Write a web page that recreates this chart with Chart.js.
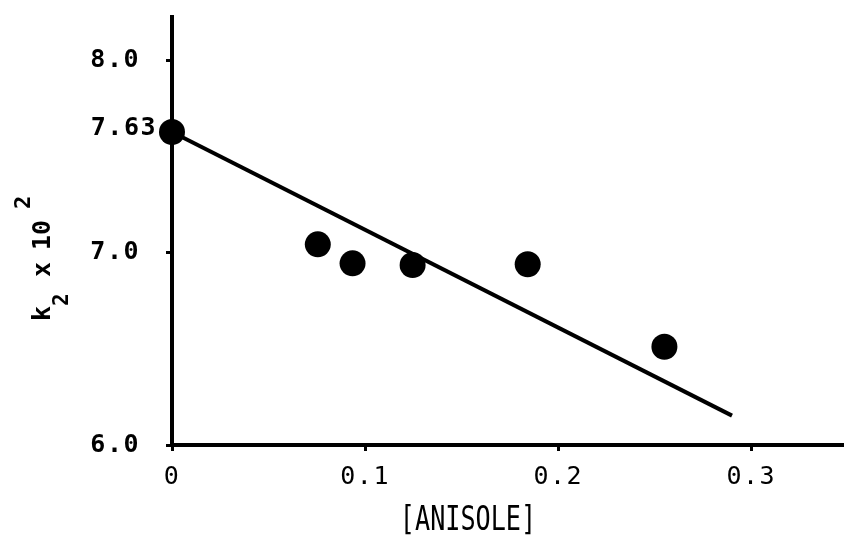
<!DOCTYPE html>
<html><head><meta charset="utf-8">
<script src="https://cdn.jsdelivr.net/npm/chart.js@4/dist/chart.umd.min.js"></script>
<style>html,body{margin:0;padding:0;background:#fff}#wrap{width:844px;height:541px}</style>
</head><body><div id="wrap"><canvas id="c" width="844" height="541"></canvas></div>
<script>
const anisole = [0, 0.0755, 0.0935, 0.1246, 0.1842, 0.255];
const k2 = [7.63, 7.045, 6.946, 6.9375, 6.941, 6.512];
const fitX = [0, 0.290];
const fitY = [7.63, 6.153];
const yTickValues = [6, 7, 8];
const xTickValues = [0, 0.1, 0.2, 0.3];
const interceptValue = 7.63;
const interceptLabel = '7.63';
const xTitle = '[ANISOLE]';
const yTitleParts = ['k', '2', 'x', '10', '2'];

const FONT = '"DejaVu Sans Mono", "Liberation Mono", monospace';

function noPad(s) {
  s.paddingTop = 0; s.paddingBottom = 0; s.paddingLeft = 0; s.paddingRight = 0;
}

const overlay = {
  id: 'overlay',
  beforeDraw(chart) { chart.ctx.letterSpacing = '1.5px'; },
  afterDraw(chart) {
    const ctx = chart.ctx;
    const ys = chart.scales.y;
    // intercept label
    ctx.save();
    ctx.letterSpacing = '1.5px';
    ctx.fillStyle = '#000';
    ctx.font = 'bold 25px ' + FONT;
    ctx.textAlign = 'right';
    ctx.textBaseline = 'middle';
    ctx.fillText(interceptLabel, 157, ys.getPixelForValue(interceptValue) - 4);
    ctx.restore();

    // y title
    ctx.save();
    ctx.letterSpacing = '0px';
    ctx.fillStyle = '#000';
    ctx.translate(50, 321);
    ctx.rotate(-Math.PI / 2);
    ctx.textAlign = 'left';
    ctx.textBaseline = 'alphabetic';
    ctx.font = 'bold 25px ' + FONT;
    ctx.fillText(yTitleParts[0], 0, 0);
    ctx.font = 'bold 21px ' + FONT;
    ctx.fillText(yTitleParts[1], 15, 18);
    ctx.font = 'bold 25px ' + FONT;
    ctx.fillText(yTitleParts[2], 44, 0);
    ctx.fillText(yTitleParts[3], 71, 0);
    ctx.font = 'bold 22px ' + FONT;
    ctx.fillText(yTitleParts[4], 112, -20);
    ctx.restore();

    // x title
    ctx.save();
    ctx.letterSpacing = '0px';
    ctx.fillStyle = '#000';
    ctx.translate(468, 530);
    ctx.scale(0.74, 1);
    ctx.textAlign = 'center';
    ctx.textBaseline = 'alphabetic';
    ctx.font = '34px ' + FONT;
    ctx.fillText(xTitle, 0, 0);
    ctx.restore();
  }
};

new Chart(document.getElementById('c'), {
  type: 'scatter',
  data: {
    datasets: [
      {
        type: 'line',
        data: fitX.map((x, i) => ({x, y: fitY[i]})),
        borderColor: '#000',
        borderWidth: 4,
        pointRadius: 0,
        fill: false,
        clip: false,
        order: 2
      },
      {
        data: anisole.map((x, i) => ({x, y: k2[i]})),
        backgroundColor: '#000',
        borderWidth: 0,
        pointRadius: 13,
        pointHoverRadius: 13,
        clip: false,
        order: 1
      }
    ]
  },
  options: {
    responsive: false,
    animation: false,
    devicePixelRatio: 1,
    layout: { autoPadding: false, padding: { top: 17, right: 0, left: 0, bottom: 0 } },
    plugins: { legend: { display: false }, tooltip: { enabled: false } },
    scales: {
      x: {
        type: 'linear',
        min: 0, max: 0.348,
        afterFit(s) { s.height = 96; noPad(s); },
        afterBuildTicks(s) { s.ticks = xTickValues.map(v => ({value: v})); },
        border: { display: true, color: '#000', width: 4 },
        grid: { display: true, drawOnChartArea: false, drawTicks: true, tickLength: 6, tickWidth: 3, tickColor: '#000', color: '#000' },
        ticks: {
          color: '#000', padding: 11, maxRotation: 0, autoSkip: false,
          font: { family: FONT, size: 25 },
          callback: v => v === 0 ? '0' : v.toFixed(1)
        }
      },
      y: {
        type: 'linear',
        min: 6, max: 8.229,
        afterFit(s) { s.width = 172; noPad(s); },
        afterBuildTicks(s) { s.ticks = yTickValues.map(v => ({value: v})); },
        border: { display: true, color: '#000', width: 4 },
        grid: { display: true, drawOnChartArea: false, drawTicks: true, tickLength: 6, tickWidth: 3, tickColor: '#000', color: '#000' },
        ticks: {
          color: '#000', padding: 26, autoSkip: false,
          font: { family: FONT, size: 25, weight: 'bold' },
          callback: v => v.toFixed(1)
        }
      }
    }
  },
  plugins: [overlay]
});
</script>
</body></html>
